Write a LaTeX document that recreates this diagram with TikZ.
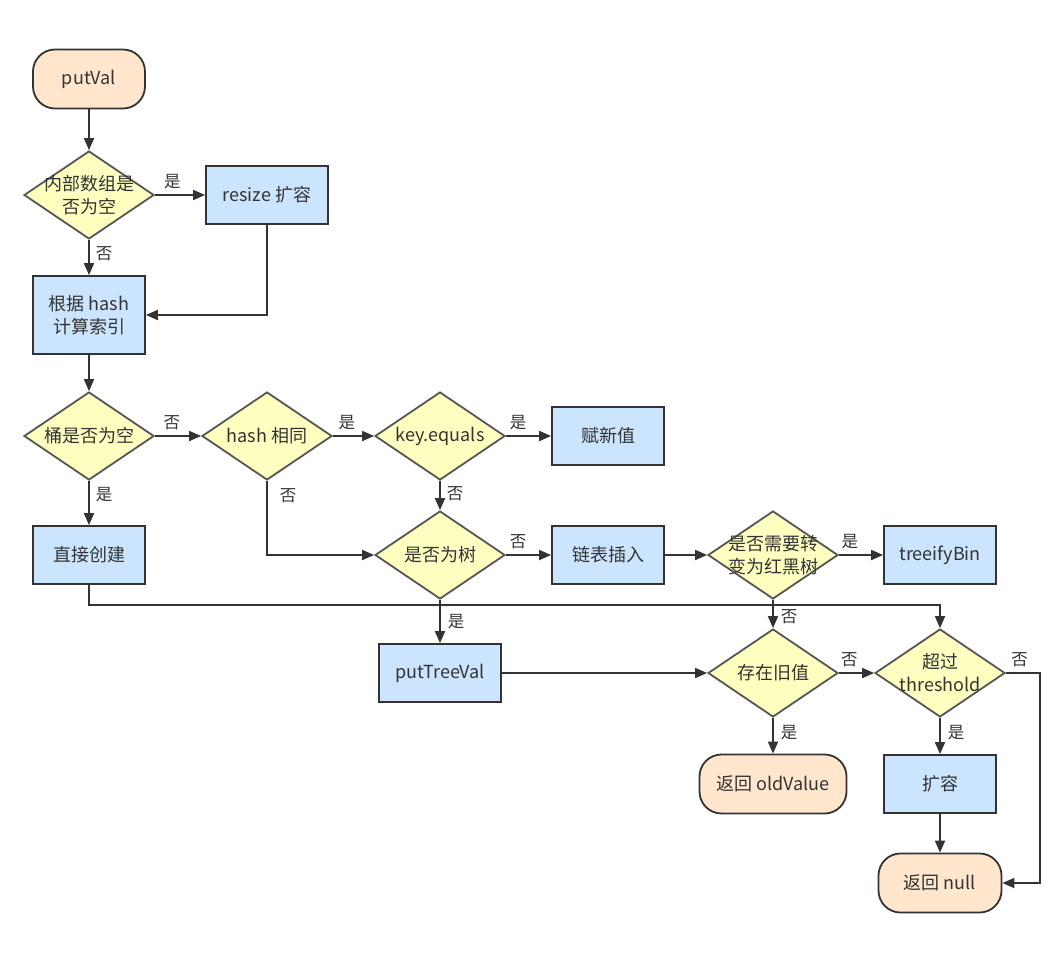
\documentclass[tikz,border=0pt]{standalone}
\usepackage{fontspec}
\setmainfont{Noto Sans CJK SC}
\usetikzlibrary{shapes.geometric,arrows.meta}
\definecolor{termfill}{HTML}{FFE6CC}
\definecolor{boxfill}{HTML}{CCE5FF}
\definecolor{decfill}{HTML}{FFFFC0}
\definecolor{ink}{HTML}{333333}
\definecolor{decline}{HTML}{555555}
\begin{document}
\begin{tikzpicture}[x=1pt,y=-1pt,
 base/.style={draw=ink, line width=1.8pt, text=ink, font=\fontsize{18}{23}\selectfont, align=center, inner sep=0pt},
 term/.style={base, fill=termfill, rounded corners=22pt, minimum width=#1, minimum height=59pt},
 proc/.style={base, fill=boxfill, minimum width=#1, minimum height=58pt},
 proc/.default=112pt,
 dtxt/.style={text=ink, font=\fontsize{18}{23}\selectfont, align=center, inner sep=0pt},
 dec/.style={base, draw=decline, diamond, fill=decfill, minimum width=130pt, minimum height=88pt, label={[dtxt]center:#1}},
 arr/.style={draw=ink, line width=1.8pt, -{Triangle[length=12pt,width=10pt]}},
 yn/.style={text=ink, font=\fontsize{16.5}{18}\selectfont, inner sep=0pt}
]
\useasboundingbox[fill=white] (0,0) rectangle (1062,953);

\node[term=112pt] (pv) at (89,79) {putVal};
\node[dec={内部数组是\\否为空}] (d1) at (89,195) {};
\node[proc=122pt] (rs) at (267,195) {resize 扩容};
\node[proc, minimum height=78pt] (hc) at (89,315) {根据 hash\\计算索引};
\node[dec={桶是否为空}] (b) at (89,436) {};
\node[dec={hash 相同}] (hs) at (267,436) {};
\node[dec={key.equals}] (ke) at (440,436) {};
\node[proc] (nv) at (608,436) {赋新值};
\node[proc] (cr) at (89,555) {直接创建};
\node[dec={是否为树}] (t) at (440,555) {};
\node[proc] (ll) at (608,555) {链表插入};
\node[dec={是否需要转\\变为红黑树}] (rb) at (773,555) {};
\node[proc] (tb) at (940,555) {treeifyBin};
\node[proc=122pt] (ptv) at (440,673) {putTreeVal};
\node[dec={存在旧值}] (ov) at (773,673) {};
\node[dec={超过\\threshold}] (th) at (940,673) {};
\node[term=147pt] (ro) at (773,784) {返回 oldValue};
\node[proc] (ex) at (940,784) {扩容};
\node[term=123pt] (rn) at (940,883) {返回 null};

\coordinate (cj) at (89,605);
\coordinate (tj) at (1040,673);

\draw[arr] (pv) -- (d1);
\draw[arr] (d1) -- node[yn, above=5pt, pos=0.35]{是} (rs);
\draw[arr] (d1) -- node[yn, right=6pt, pos=0.4]{否} (hc);
\draw[arr] (rs.south) |- (hc.east);
\draw[arr] (hc) -- (b);
\draw[arr] (b) -- node[yn, above=5pt, pos=0.37]{否} (hs);
\draw[arr] (b) -- node[yn, right=6pt, pos=0.3]{是} (cr);
\draw[arr] (hs) -- node[yn, above=5pt, pos=0.34]{是} (ke);
\draw[arr] (ke) -- node[yn, above=5pt, pos=0.27]{是} (nv);
\draw[arr] (ke) -- node[yn, right=6pt, pos=0.45]{否} (t);
\draw[arr] (hs.south) |- node[yn, right=12pt, pos=0.1]{否} (t.west);
\draw[arr] (t) -- node[yn, above=5pt, pos=0.27]{否} (ll);
\draw[arr] (t) -- node[yn, right=7pt, pos=0.5]{是} (ptv);
\draw[arr] (ll) -- (rb);
\draw[arr] (rb) -- node[yn, above=5pt, pos=0.25]{是} (tb);
\draw[arr] (rb) -- node[yn, right=7pt, pos=0.6]{否} (ov);
\draw[arr] (cr.south) -- (cj) -| (th.north);
\draw[arr] (ptv) -- (ov);
\draw[arr] (ov) -- node[yn, above=5pt, pos=0.3]{否} (th);
\draw[arr] (ov) -- node[yn, right=7pt, pos=0.4]{是} (ro);
\draw[arr] (th) -- node[yn, right=7pt, pos=0.4]{是} (ex);
\draw[arr] (th.east) -- node[yn, above=5pt, pos=0.4]{否} (tj) |- (rn.east);
\draw[arr] (ex) -- (rn);
\end{tikzpicture}
\end{document}
